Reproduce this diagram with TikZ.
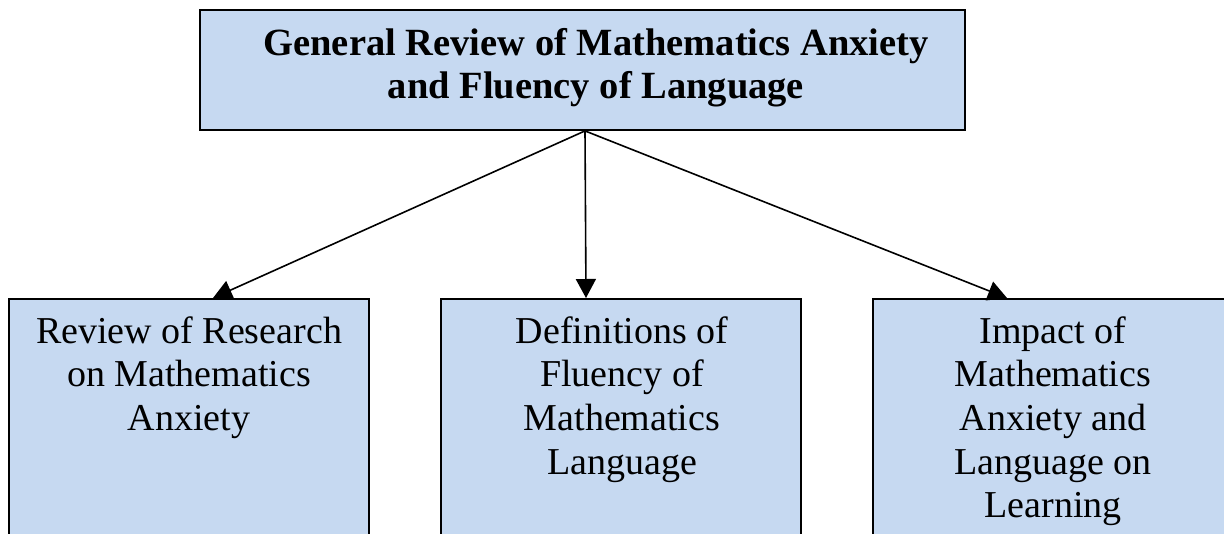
\documentclass[tikz,border=0pt]{standalone}
\usepackage{fontspec}
\setmainfont{Liberation Serif}
\usetikzlibrary{arrows.meta}
\definecolor{boxfill}{RGB}{198,217,241}
\begin{document}
\begin{tikzpicture}[x=1pt,y=-1pt,
  box/.style={draw=black,line width=1.8pt,fill=boxfill,inner sep=0pt},
  lbl/.style={align=center,inner sep=0pt,font=\fontsize{38}{43.7}\selectfont},
  toplbl/.style={align=center,inner sep=0pt,font=\fontsize{38.5}{43}\selectfont\bfseries},
  conn/.style={line width=1.6pt,-{Triangle[length=19pt,width=20pt]}}]
\useasboundingbox (0,0) rectangle (1224,533);
\node[box,minimum width=765pt,minimum height=120pt] (top) at (582.5,70) {};
\node[toplbl,anchor=base] (toptext) at (596,98) {General Review of Mathematics Anxiety\\and Fluency of Language};
\node[box,anchor=north,minimum width=360pt,minimum height=280pt] (left) at (189,298) {};
\node[box,anchor=north,minimum width=360pt,minimum height=280pt] (mid) at (621,298) {};
\node[box,anchor=north,minimum width=360pt,minimum height=280pt] (right) at (1053,298) {};
\node[lbl,anchor=base] (lefttext) at (189,430.4) {Review of Research\\on Mathematics\\Anxiety};
\node[lbl,anchor=base] (midtext) at (622,474.1) {Definitions of\\Fluency of\\Mathematics\\Language};
\node[lbl,anchor=base] (righttext) at (1053,517.8) {Impact of\\Mathematics\\Anxiety and\\Language on\\Learning};
\coordinate (src) at ([xshift=2.5pt]top.south);
\draw[conn] (src) -- ([xshift=24pt]left.north);
\draw[conn] (src) -- ([xshift=-35pt]mid.north);
\draw[conn] (src) -- ([xshift=-46pt]right.north);
\end{tikzpicture}
\end{document}
